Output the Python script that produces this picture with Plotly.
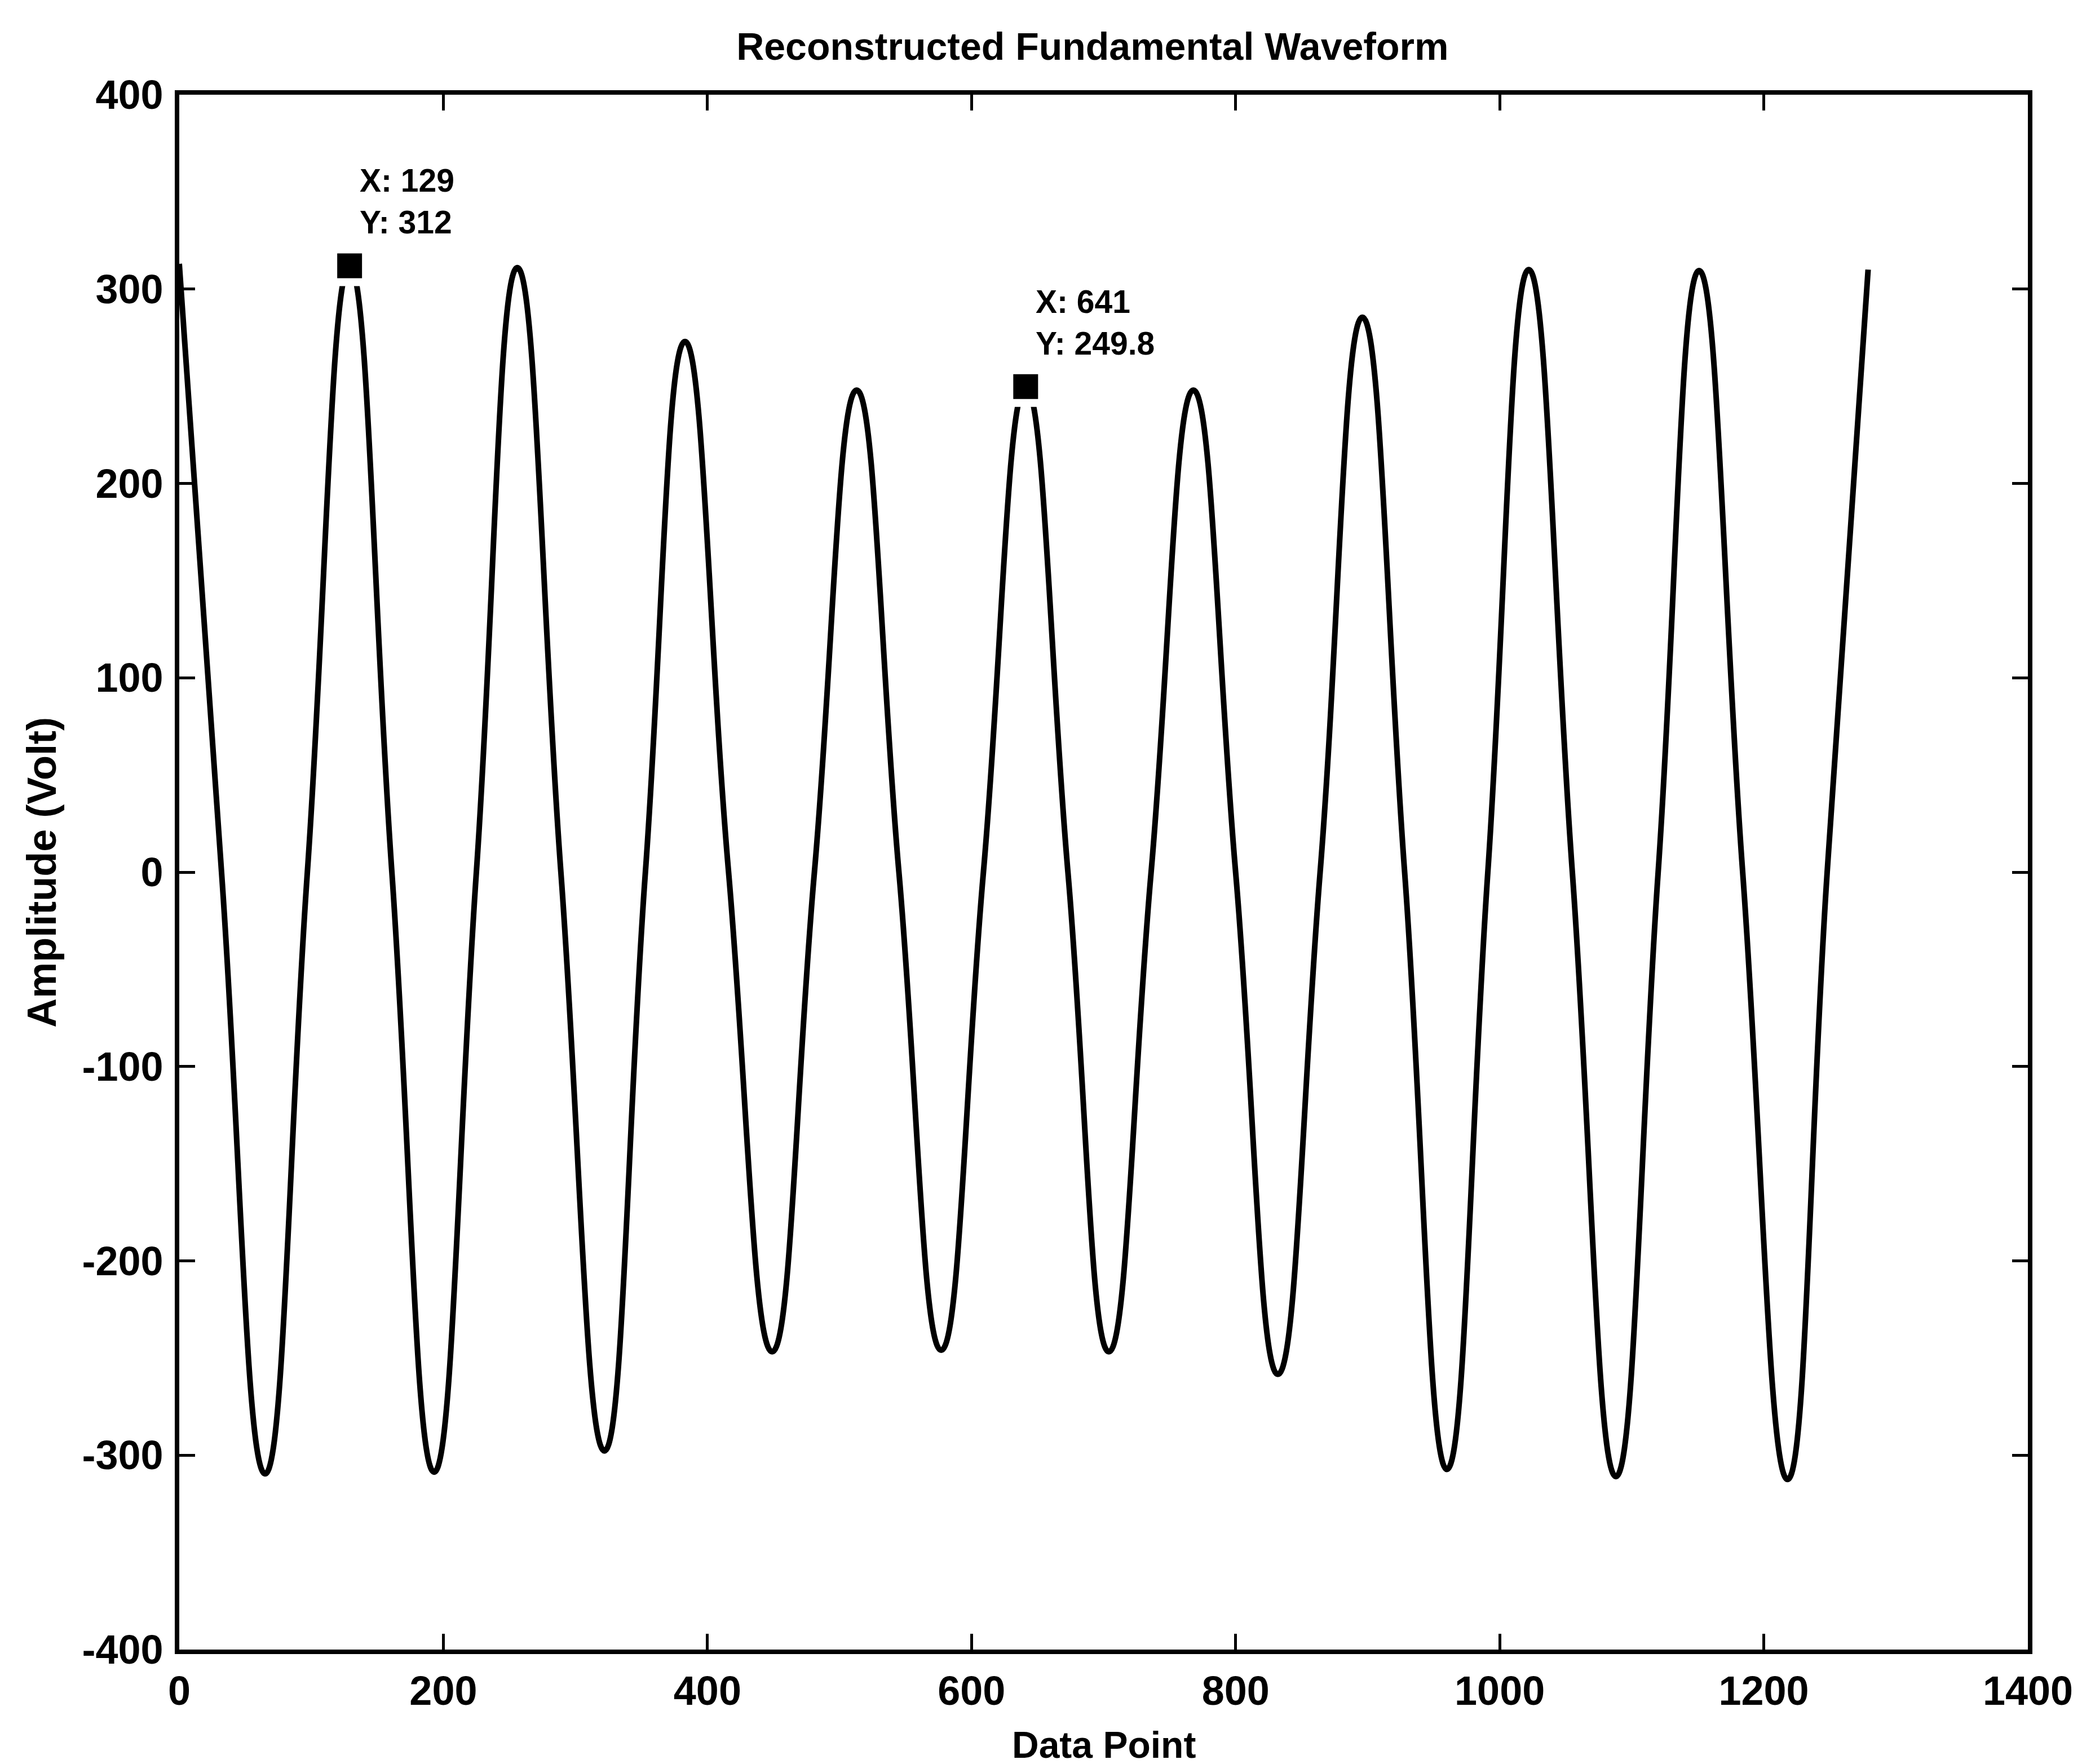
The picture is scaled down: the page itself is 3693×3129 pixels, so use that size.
import plotly.graph_objects as go

# ---- data ----
peak_x = [0, 129, 256, 383, 513, 641, 768, 896, 1022, 1151, 1279]
peak_y = [313, 312, 311, 273, 248, 249.8, 248, 285.5, 310, 309.5, 310]
trough_x = [65, 193, 322, 449, 577, 704, 832, 960, 1088, 1218]
trough_y = [-309.6, -308.7, -297.8, -246.8, -246.0, -246.8, -258.4, -307.3, -311.0, -312.5]
zero_x = [32, 97, 161, 225, 289, 353, 416, 481, 545, 609,
          673, 736, 800, 864, 928, 991, 1055, 1120, 1184, 1248]

tip_x = [129, 641]
tip_y = [312, 249.8]
tip_text = ["X: 129<br>Y: 312", "X: 641<br>Y: 249.8"]

x_ticks = [0, 200, 400, 600, 800, 1000, 1200, 1400]
y_ticks = [-400, -300, -200, -100, 0, 100, 200, 300, 400]

title_text = "Reconstructed Fundamental Waveform"
x_title = "Data Point"
y_title = "Amplitude (Volt)"

# ---- assemble curve points (extrema + zero crossings) ----
pts = [(x, y) for x, y in zip(peak_x, peak_y)]
pts += [(x, y) for x, y in zip(trough_x, trough_y)]
pts += [(x, 0.0) for x in zero_x]
pts.sort()
cx = [p[0] for p in pts]
cy = [p[1] for p in pts]

FONT = "Liberation Sans, Arial, Helvetica, sans-serif"

fig = go.Figure()
fig.add_trace(go.Scatter(
    x=cx, y=cy, mode="lines",
    line=dict(color="black", width=10, shape="spline", smoothing=1.3),
    showlegend=False, hoverinfo="skip"))
# white halo behind data-tip markers
fig.add_trace(go.Scatter(
    x=tip_x, y=tip_y, mode="markers",
    marker=dict(symbol="square", size=72, color="white"),
    showlegend=False, hoverinfo="skip"))
fig.add_trace(go.Scatter(
    x=tip_x, y=tip_y, mode="markers",
    marker=dict(symbol="square", size=44, color="black"),
    showlegend=False, hoverinfo="skip"))

for xv, yv, t in zip(tip_x, tip_y, tip_text):
    fig.add_annotation(x=xv, y=yv, xref="x", yref="y",
                       text="<b>" + t.replace("<br>", "</b><br><b>") + "</b>",
                       showarrow=False,
                       xanchor="left", yanchor="middle", align="left",
                       xshift=16, yshift=114,
                       font=dict(family=FONT, size=57, color="black"))

axis_common = dict(showline=True, linecolor="black", linewidth=8, mirror="ticks",
                   ticks="inside", ticklen=28, tickwidth=5, tickcolor="black",
                   showgrid=False, zeroline=False,
                   tickfont=dict(family=FONT, size=72, color="black", weight="bold"))

fig.update_xaxes(range=[0, 1400], tickvals=x_ticks, ticktext=[str(v) for v in x_ticks],
                 ticklabelstandoff=4, **axis_common)
fig.update_yaxes(range=[-400, 400], tickvals=y_ticks, ticktext=[str(v) for v in y_ticks],
                 ticklabelstandoff=6, **axis_common)

fig.add_annotation(text="<b>" + y_title + "</b>", xref="paper", yref="paper",
                   x=-0.0745, y=0.5,
                   textangle=-90, showarrow=False, xanchor="center", yanchor="middle",
                   font=dict(family=FONT, size=72, color="black"))
fig.add_annotation(text="<b>" + x_title + "</b>", xref="paper", yref="paper",
                   x=0.500, y=-0.0613,
                   showarrow=False, xanchor="center", yanchor="middle",
                   font=dict(family=FONT, size=66, color="black"))

fig.update_layout(
    width=3693, height=3129,
    margin=dict(l=310, r=104, t=160, b=211),
    paper_bgcolor="white", plot_bgcolor="white",
    title=dict(text="<b>" + title_text + "</b>", xref="paper", x=0.494, xanchor="center",
               yref="container", y=1 - 74 / 3129, yanchor="middle",
               font=dict(family=FONT, size=68, color="black")),
)

fig.write_html("out.html")
